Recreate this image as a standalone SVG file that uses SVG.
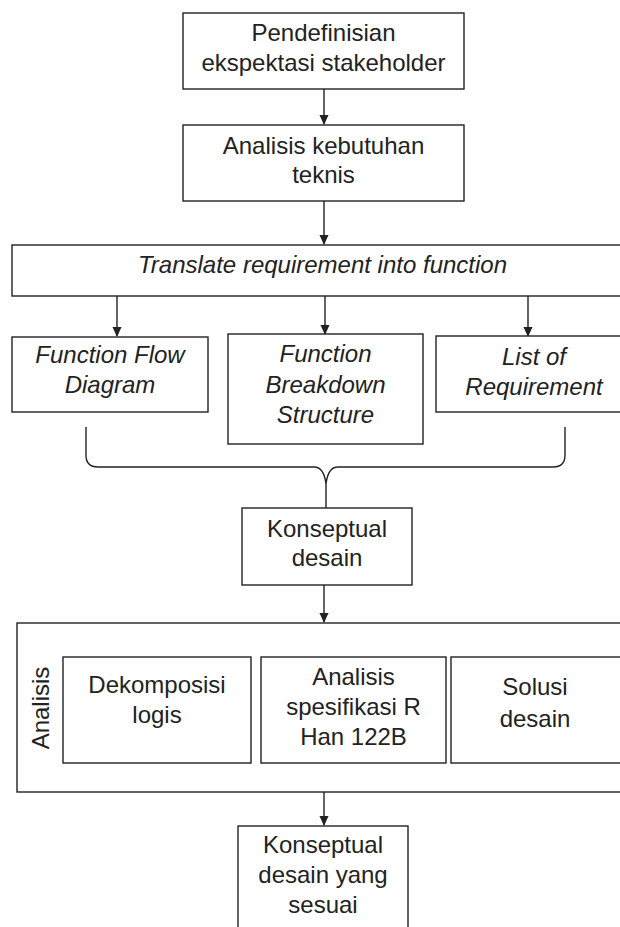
<svg xmlns="http://www.w3.org/2000/svg" width="620" height="927" viewBox="0 0 620 927">
<style>
.box{fill:#fff;stroke:#222;stroke-width:1.4}
.t{font-family:"Liberation Sans",Arial,sans-serif;font-size:24px;fill:#222;text-anchor:middle}
.i{font-style:italic}
.c{fill:none;stroke:#222;stroke-width:1.4}
</style>
<defs>
<marker id="ah" markerWidth="10" markerHeight="10" refX="9" refY="5" orient="auto" markerUnits="userSpaceOnUse">
<path d="M0,0.5 L10,5 L0,9.5 Z" fill="#222"/>
</marker>
</defs>
<g id="connectors">
<line class="c" x1="324" y1="89" x2="324" y2="124" marker-end="url(#ah)"/>
<line class="c" x1="324" y1="201" x2="324" y2="244" marker-end="url(#ah)"/>
<line class="c" x1="117" y1="296" x2="117" y2="336" marker-end="url(#ah)"/>
<line class="c" x1="325" y1="296" x2="325" y2="334" marker-end="url(#ah)"/>
<line class="c" x1="528" y1="296" x2="528" y2="336" marker-end="url(#ah)"/>
<path class="c" d="M86,427 V455 Q86,467 98,467 H314 Q324,467 326,484 Q328,467 338,467 H553 Q565,467 565,455 V427"/>
<line class="c" x1="326" y1="484" x2="326" y2="508"/>
<line class="c" x1="324" y1="585" x2="324" y2="622" marker-end="url(#ah)"/>
<line class="c" x1="324" y1="792" x2="324" y2="825" marker-end="url(#ah)"/>
</g>
<g id="n1">
<rect class="box" x="183" y="13" width="281" height="76"/>
<text class="t" x="323.5" y="41">Pendefinisian</text>
<text class="t" x="323.5" y="71">ekspektasi stakeholder</text>
</g>
<g id="n2">
<rect class="box" x="183" y="125" width="281" height="76"/>
<text class="t" x="323.5" y="154">Analisis kebutuhan</text>
<text class="t" x="323.5" y="183">teknis</text>
</g>
<g id="n3">
<rect class="box" x="12" y="245" width="640" height="51"/>
<text class="t i" x="322.5" y="273">Translate requirement into function</text>
</g>
<g id="n4">
<rect class="box" x="12" y="337" width="196" height="75"/>
<text class="t i" x="110" y="363">Function Flow</text>
<text class="t i" x="110" y="393">Diagram</text>
</g>
<g id="n5">
<rect class="box" x="228" y="334" width="195" height="110"/>
<text class="t i" x="325.5" y="362">Function</text>
<text class="t i" x="325.5" y="393">Breakdown</text>
<text class="t i" x="325.5" y="423">Structure</text>
</g>
<g id="n6">
<rect class="box" x="436" y="336" width="220" height="76"/>
<text class="t i" x="534" y="365">List of</text>
<text class="t i" x="534" y="395">Requirement</text>
</g>
<g id="n7">
<rect class="box" x="242" y="508" width="170" height="77"/>
<text class="t" x="327" y="537">Konseptual</text>
<text class="t" x="327" y="566">desain</text>
</g>
<g id="n8">
<rect class="box" x="17" y="623" width="640" height="169"/>
<text class="t" transform="translate(49,708) rotate(-90)" x="0" y="0">Analisis</text>
</g>
<g id="n9">
<rect class="box" x="63" y="657" width="188" height="106"/>
<text class="t" x="157" y="693">Dekomposisi</text>
<text class="t" x="157" y="723">logis</text>
</g>
<g id="n10">
<rect class="box" x="261" y="657" width="185" height="106"/>
<text class="t" x="353.5" y="685">Analisis</text>
<text class="t" x="353.5" y="715">spesifikasi R</text>
<text class="t" x="353.5" y="745">Han 122B</text>
</g>
<g id="n11">
<rect class="box" x="451" y="657" width="200" height="106"/>
<text class="t" x="535" y="695">Solusi</text>
<text class="t" x="535" y="727">desain</text>
</g>
<g id="n12">
<rect class="box" x="238" y="826" width="170" height="140"/>
<text class="t" x="323" y="853">Konseptual</text>
<text class="t" x="323" y="883">desain yang</text>
<text class="t" x="323" y="913">sesuai</text>
</g>
</svg>
